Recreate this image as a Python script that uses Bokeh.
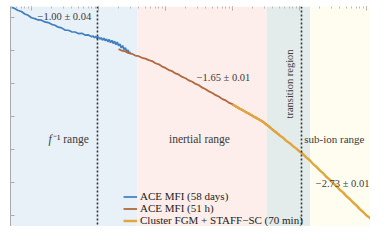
import numpy as np
from bokeh.plotting import figure
from bokeh.models import Range1d, FixedTicker, BoxAnnotation, Span, Legend, LegendItem
from bokeh.core.properties import value
from bokeh.embed import file_html
from bokeh.resources import INLINE

# ---- data (log10 frequency [Hz], log10 PSD) ----
ace58_logf = [-5.30, -5.25, -5.20, -5.15, -5.10, -5.05, -5.00, -4.95, -4.90, -4.85,
              -4.80, -4.75, -4.70, -4.65, -4.60, -4.55, -4.50, -4.45, -4.40, -4.35,
              -4.30, -4.25, -4.20, -4.15, -4.10, -4.08, -4.06, -4.04, -4.02, -4.00,
              -3.98, -3.96, -3.94, -3.92, -3.90, -3.88, -3.86, -3.84, -3.82, -3.80,
              -3.78, -3.76, -3.74, -3.72, -3.70, -3.68, -3.66, -3.64, -3.62, -3.60,
              -3.58, -3.56, -3.54, -3.52]
ace58_logp = [5.97, 5.91, 5.82, 5.77, 5.66, 5.60, 5.49, 5.45, 5.39, 5.38,
              5.30, 5.27, 5.19, 5.15, 5.06, 5.03, 4.93, 4.92, 4.85, 4.84,
              4.77, 4.78, 4.70, 4.71, 4.63, 4.66, 4.58, 4.64, 4.55, 4.62,
              4.52, 4.58, 4.47, 4.56, 4.45, 4.52, 4.40, 4.50, 4.36, 4.46,
              4.32, 4.42, 4.27, 4.38, 4.22, 4.30, 4.12, 4.22, 4.05, 4.12,
              3.96, 4.02, 3.88, 3.92]

ace51_logf = [-3.70, -3.65, -3.60, -3.55, -3.50, -3.45, -3.40, -3.35, -3.30, -3.25,
              -3.20, -3.15, -3.10, -3.05, -3.00, -2.95, -2.90, -2.85, -2.80, -2.75,
              -2.70, -2.65, -2.60, -2.55, -2.50, -2.45, -2.40, -2.35, -2.30, -2.25,
              -2.20, -2.15, -2.10, -2.05, -2.00, -1.95, -1.90, -1.85, -1.80, -1.75,
              -1.70, -1.65, -1.60, -1.55, -1.50, -1.45, -1.40, -1.35, -1.30]
ace51_logp = [4.06, 3.99, 3.96, 3.88, 3.85, 3.77, 3.74, 3.67, 3.63, 3.56,
              3.52, 3.42, 3.37, 3.27, 3.21, 3.11, 3.06, 2.96, 2.90, 2.80,
              2.74, 2.64, 2.58, 2.48, 2.42, 2.31, 2.24, 2.14, 2.07, 1.97,
              1.90, 1.79, 1.73, 1.62, 1.56, 1.45, 1.38, 1.28, 1.21, 1.11,
              1.04, 0.93, 0.87, 0.76, 0.66, 0.52, 0.41, 0.27, 0.17]

cluster_logf = [-2.00, -1.95, -1.90, -1.85, -1.80, -1.75, -1.70, -1.65, -1.60, -1.55,
                -1.50, -1.45, -1.40, -1.35, -1.30, -1.25, -1.20, -1.15, -1.10, -1.05,
                -1.00, -0.95, -0.90, -0.85, -0.80, -0.75, -0.70, -0.65, -0.60, -0.55,
                -0.50, -0.45, -0.40, -0.35, -0.30, -0.25, -0.20, -0.15, -0.10, -0.05,
                0.00, 0.05, 0.10, 0.13, 0.15, 0.18, 0.20, 0.23, 0.25, 0.28, 0.30]
cluster_logp = [1.54, 1.47, 1.36, 1.30, 1.19, 1.13, 1.02, 0.95, 0.85, 0.78,
                0.64, 0.54, 0.39, 0.29, 0.15, 0.05, -0.10, -0.20, -0.34, -0.45,
                -0.59, -0.69, -0.86, -0.98, -1.15, -1.28, -1.44, -1.57, -1.74, -1.87,
                -2.03, -2.16, -2.33, -2.45, -2.62, -2.75, -2.91, -3.04, -3.21, -3.34,
                -3.50, -3.60, -3.80, -3.55, -3.92, -3.70, -4.08, -3.85, -4.22, -3.95, -4.37]

series_names = ["ACE MFI (58 days)", "ACE MFI (51 h)", "Cluster FGM + STAFF\u2212SC (70 min)"]

# region boundaries (log10 f)
region_edges = [-3.42, -1.49, -0.84]
region_names = ["inertial range", "transition region", "sub-ion range"]
region_label_logf = [-2.493, -1.149, -0.48]
region_label_logp = [-0.03, 2.48, -0.03]
# "f^-1 range" label drawn in two parts (italic f + rest)
f_label_parts = ["f", "\u207b\u00b9 range"]
f_label_logf = -4.70
f_label_logp = -0.03
break_lines = [-4.015, -0.97]

slope_labels = ["\u22121.00 \u00b1 0.04", "\u22121.65 \u00b1 0.01", "\u22122.73 \u00b1 0.01"]
slope_label_logf = [-4.51, -2.134, 0.045]
slope_label_logp = [5.545, 2.773, -2.045]

XMIN, XMAX = -5.313, 0.060
YMIN, YMAX = -4.0, 6.0

def pw(a):
    return np.power(10.0, np.asarray(a, dtype=float))

p = figure(width=370, height=226, x_axis_type="log", y_axis_type="log",
           x_range=Range1d(10**XMIN, 10**XMAX), y_range=Range1d(10**YMIN, 10**YMAX),
           x_axis_location="above", y_axis_location="left",
           output_backend="svg", toolbar_location=None,
           min_border_left=10, min_border_top=6, min_border_right=0, min_border_bottom=0)
p.outline_line_color = None
p.grid.visible = False
p.background_fill_color = "white"

for ax in (p.xaxis[0], p.yaxis[0]):
    ax.major_label_text_font_size = "1px"
    ax.major_label_text_alpha = 0
    ax.major_label_standoff = 0
    ax.major_tick_out = 0
    ax.major_tick_in = 4
    ax.minor_tick_out = 0
    ax.minor_tick_in = 2
    ax.major_tick_line_color = "#aaaaaa"
    ax.minor_tick_line_color = "#bbbbbb"
p.xaxis[0].axis_line_color = None
p.yaxis[0].axis_line_color = "#aaaaaa"
p.yaxis[0].minor_tick_line_color = None
p.yaxis[0].ticker = FixedTicker(ticks=list(pw([5.5, 4.0, 2.5, 1.0, -0.5, -2.0, -3.5])))

# background bands
band_colors = ["#e8f0f8", "#fdeeeb", "#e3ecea", "#fffdf0"]
edges = [10**XMIN] + [10**e for e in region_edges] + [10**XMAX]
for i, c in enumerate(band_colors):
    p.add_layout(BoxAnnotation(left=edges[i], right=edges[i + 1], fill_color=c,
                               fill_alpha=1.0, line_color=None, level="underlay"))

for b in break_lines:
    p.add_layout(Span(location=10**b, dimension="height", line_color="#333333",
                      line_width=1.6, line_dash="2 2"))

r1 = p.line(pw(ace58_logf), pw(ace58_logp), line_color="#3f7fc0", line_width=1.7)
r2 = p.line(pw(ace51_logf), pw(ace51_logp), line_color="#b0683e", line_width=1.8)
r3 = p.line(pw(cluster_logf), pw(cluster_logp), line_color="#e2a53c", line_width=2.4)

font = value("Liberation Serif")
tc = "#3a3a3a"
# region labels
p.text(x=pw([region_label_logf[0]]), y=pw([region_label_logp[0]]), text=[region_names[0]],
       text_font=font, text_font_size=value("11.5px"), text_align="center",
       text_baseline="middle", text_color=tc)
p.text(x=pw([region_label_logf[2]]), y=pw([region_label_logp[2]]), text=[region_names[2]],
       text_font=font, text_font_size=value("11px"), text_align="center",
       text_baseline="middle", text_color=tc)
p.text(x=pw([f_label_logf]), y=pw([f_label_logp]), text=[f_label_parts[0]],
       text_font=font, text_font_style="italic", text_font_size=value("11.5px"),
       text_align="right", text_baseline="middle", text_color=tc)
p.text(x=pw([f_label_logf + 0.02]), y=pw([f_label_logp]), text=[f_label_parts[1]],
       text_font=font, text_font_size=value("11.5px"),
       text_align="left", text_baseline="middle", text_color=tc)
p.text(x=pw([region_label_logf[1]]), y=pw([region_label_logp[1]]), text=[region_names[1]],
       angle=np.pi / 2, text_font=font, text_font_size=value("10.5px"), text_align="center",
       text_baseline="middle", text_color=tc)
p.text(x=pw(slope_label_logf[:2]), y=pw(slope_label_logp[:2]), text=slope_labels[:2],
       text_font=font, text_font_size=value("10.5px"), text_align="center",
       text_baseline="middle", text_color=tc)
p.text(x=pw(slope_label_logf[2:]), y=pw(slope_label_logp[2:]), text=slope_labels[2:],
       text_font=font, text_font_size=value("10.5px"), text_align="right",
       text_baseline="middle", text_color=tc)

legend = Legend(items=[LegendItem(label=series_names[0], renderers=[r1]),
                       LegendItem(label=series_names[1], renderers=[r2]),
                       LegendItem(label=series_names[2], renderers=[r3])],
                location=(113, 0))
legend.glyph_width = 14
legend.glyph_height = 11
legend.label_height = 11
legend.label_standoff = 3
legend.spacing = 0
legend.padding = 0
legend.margin = 0
legend.background_fill_alpha = 0
legend.border_line_alpha = 0
legend.label_text_font = "Liberation Serif"
legend.label_text_font_size = "11px"
legend.label_text_color = "#222222"
p.add_layout(legend)

open("out.html", "w").write(file_html(p, INLINE))
